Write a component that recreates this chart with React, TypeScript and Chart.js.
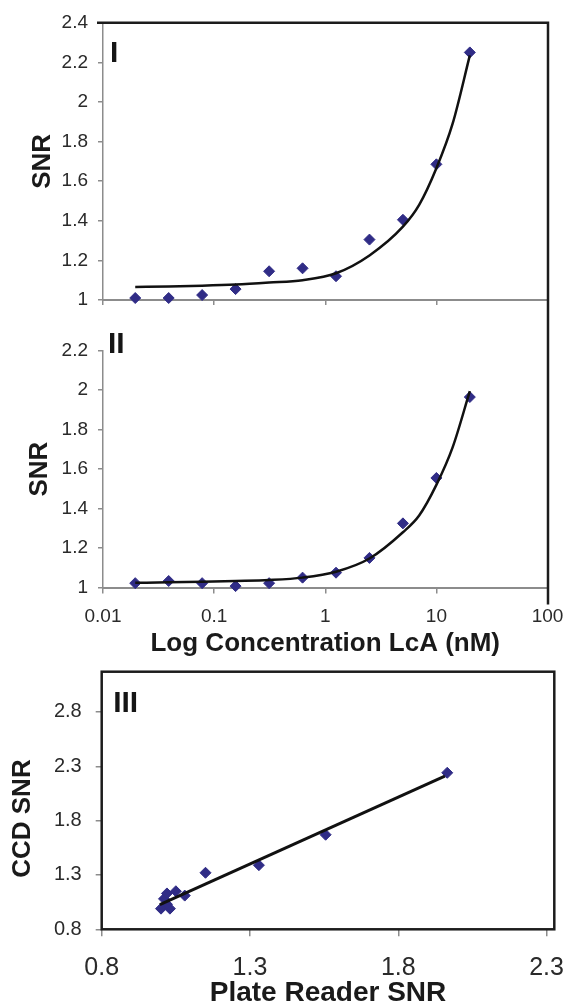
import React, { useEffect, useRef } from 'react';
import { Chart, registerables } from 'chart.js';

Chart.register(...registerables);

// ---- data ----
// two-fold dilution series of LcA (nM)
const concentrations = [0.0195, 0.039, 0.078, 0.156, 0.3125, 0.625, 1.25, 2.5, 5, 10, 20];
// Panel I (CCD) SNR
const snrPanelI = [1.01, 1.01, 1.025, 1.055, 1.145, 1.16, 1.12, 1.305, 1.405, 1.685, 2.25];
// Panel II (plate reader) SNR
const snrPanelII = [1.022, 1.033, 1.022, 1.007, 1.022, 1.05, 1.075, 1.15, 1.325, 1.555, 1.965];
// fitted curves
const fitConcentrations = [0.0195, 0.039, 0.078, 0.156, 0.3125, 0.625, 1.25, 2.5, 5, 7, 10, 14, 20];
const fitPanelI = [1.066, 1.068, 1.072, 1.078, 1.088, 1.1, 1.135, 1.225, 1.37, 1.48, 1.665, 1.89, 2.235];
const fitPanelII = [1.024, 1.026, 1.029, 1.033, 1.038, 1.05, 1.08, 1.147, 1.28, 1.365, 1.52, 1.71, 1.995];
// Panel III: plate reader SNR vs CCD SNR
const plateReaderSNR = [1.0, 1.03, 1.02, 1.01, 1.02, 1.05, 1.08, 1.15, 1.33, 1.555, 1.965];
const ccdSNR = [0.99, 0.99, 1.03, 1.08, 1.13, 1.15, 1.11, 1.32, 1.39, 1.67, 2.24];
const regressionX = [0.996, 1.957];
const regressionY = [1.027, 2.209];

// ---- ticks ----
const logTickValues = [0.01, 0.1, 1, 10, 100];
const logTickLabels = ['0.01', '0.1', '1', '10', '100'];
const yTickValuesI = [1, 1.2, 1.4, 1.6, 1.8, 2, 2.2, 2.4];
const yTickLabelsI = ['1', '1.2', '1.4', '1.6', '1.8', '2', '2.2', '2.4'];
const yTickValuesII = [1, 1.2, 1.4, 1.6, 1.8, 2, 2.2];
const yTickLabelsII = ['1', '1.2', '1.4', '1.6', '1.8', '2', '2.2'];
const xTickValuesIII = [0.8, 1.3, 1.8, 2.3];
const xTickLabelsIII = ['0.8', '1.3', '1.8', '2.3'];
const yTickValuesIII = [0.8, 1.3, 1.8, 2.3, 2.8];
const yTickLabelsIII = ['0.8', '1.3', '1.8', '2.3', '2.8'];

const FONT = '"Liberation Sans", Arial, Helvetica, sans-serif';
const TEXT = '#2a2a2a';
const AXIS_GRAY = '#8c8c8c';
const FRAME = '#1c1c1c';
const NAVY = '#302c86';
const CURVE = '#111111';

const pts = (xs: number[], ys: number[]) => xs.map((x, i) => ({ x, y: ys[i] }));

const setTicks = (values: number[]) => (s: any) => {
  s.ticks = values.map((v) => ({ value: v }));
};

const fixSize = (size: number, horizontal: boolean) => (s: any) => {
  if (horizontal) s.height = size;
  else s.width = size;
  s.paddingTop = 0;
  s.paddingBottom = 0;
  s.paddingLeft = 0;
  s.paddingRight = 0;
};

const markerDataset = (data: { x: number; y: number }[]) => ({
  data,
  pointStyle: 'rectRot',
  pointRadius: 5.5,
  backgroundColor: NAVY,
  borderColor: NAVY,
  borderWidth: 1,
  showLine: false,
  clip: false,
  order: 1,
});

const curveDataset = (data: { x: number; y: number }[], width: number) => ({
  data,
  showLine: true,
  pointRadius: 0,
  borderColor: CURVE,
  borderWidth: width,
  cubicInterpolationMode: 'monotone',
  fill: false,
  clip: false,
  order: 0,
});

const numeralPlugin = (text: string, dx: number, dy: number) => ({
  id: 'numeral' + text,
  afterDraw(chart: any) {
    const { ctx, chartArea: a } = chart;
    ctx.save();
    ctx.fillStyle = '#151515';
    ctx.font = `bold 30px ${FONT}`;
    ctx.textAlign = 'left';
    ctx.textBaseline = 'alphabetic';
    ctx.fillText(text, a.left + dx, a.top + dy);
    ctx.restore();
  },
});

const commonOptions = {
  animation: false,
  responsive: false,
  devicePixelRatio: 1,
  events: [],
  plugins: { legend: { display: false }, tooltip: { enabled: false } },
};

const tickFont = (size: number) => ({ family: FONT, size });
const titleFont = (size: number) => ({ family: FONT, size, weight: 'bold' });

function configI(): any {
  return {
    type: 'scatter',
    data: {
      datasets: [
        markerDataset(pts(concentrations, snrPanelI)),
        curveDataset(pts(fitConcentrations, fitPanelI), 2.5),
      ],
    },
    options: {
      ...commonOptions,
      layout: { padding: { top: 22.7, left: 0, right: 23.5, bottom: 0 } },
      scales: {
        x: {
          type: 'logarithmic',
          min: 0.01,
          max: 100,
          afterBuildTicks: setTicks(logTickValues),
          ticks: { display: false, autoSkip: false },
          grid: { drawOnChartArea: false, drawTicks: true, tickLength: 5, color: AXIS_GRAY, lineWidth: 1.5 },
          border: { color: AXIS_GRAY, width: 2 },
          afterFit: fixSize(12, true),
        },
        y: {
          min: 1,
          max: 2.4,
          afterBuildTicks: setTicks(yTickValuesI),
          ticks: {
            autoSkip: false,
            padding: 10,
            color: TEXT,
            font: tickFont(19),
            callback: (_v: any, i: number) => yTickLabelsI[i],
          },
          grid: { drawOnChartArea: false, drawTicks: true, tickLength: 5, color: AXIS_GRAY, lineWidth: 1.5 },
          border: { color: AXIS_GRAY, width: 1.5 },
          title: { display: true, text: 'SNR', color: '#1a1a1a', font: titleFont(26), padding: { top: 27, bottom: 0 } },
          afterFit: fixSize(103, false),
        },
      },
    },
    plugins: [
      {
        id: 'frameI',
        afterDraw(chart: any) {
          const { ctx, chartArea: a } = chart;
          ctx.save();
          ctx.strokeStyle = FRAME;
          ctx.lineWidth = 2.5;
          ctx.beginPath();
          ctx.moveTo(a.left - 6, a.top);
          ctx.lineTo(a.right + 0.5, a.top);
          ctx.moveTo(a.right + 0.5, a.top - 1.25);
          ctx.lineTo(a.right + 0.5, chart.height);
          ctx.stroke();
          ctx.restore();
        },
      },
      numeralPlugin('I', 7, 39),
    ],
  };
}

function configII(): any {
  return {
    type: 'scatter',
    data: {
      datasets: [
        markerDataset(pts(concentrations, snrPanelII)),
        curveDataset(pts(fitConcentrations, fitPanelII), 2.5),
      ],
    },
    options: {
      ...commonOptions,
      layout: { padding: { top: 38.7, left: 0, right: 23.5, bottom: 0 } },
      scales: {
        x: {
          type: 'logarithmic',
          min: 0.01,
          max: 100,
          afterBuildTicks: setTicks(logTickValues),
          ticks: {
            autoSkip: false,
            maxRotation: 0,
            padding: 12,
            color: TEXT,
            font: tickFont(19),
            callback: (_v: any, i: number) => logTickLabels[i],
          },
          grid: { drawOnChartArea: false, drawTicks: true, tickLength: 6, color: AXIS_GRAY, lineWidth: 1.5 },
          border: { color: AXIS_GRAY, width: 2 },
          title: {
            display: true,
            text: 'Log Concentration LcA (nM)',
            color: '#1a1a1a',
            font: titleFont(26),
            padding: { top: 0, bottom: 3 },
          },
          afterFit: fixSize(74.5, true),
        },
        y: {
          min: 1,
          max: 2.2,
          afterBuildTicks: setTicks(yTickValuesII),
          ticks: {
            autoSkip: false,
            padding: 10,
            color: TEXT,
            font: tickFont(19),
            callback: (_v: any, i: number) => yTickLabelsII[i],
          },
          grid: { drawOnChartArea: false, drawTicks: true, tickLength: 5, color: AXIS_GRAY, lineWidth: 1.5 },
          border: { color: AXIS_GRAY, width: 1.5 },
          title: { display: true, text: 'SNR', color: '#1a1a1a', font: titleFont(26), padding: { top: 24, bottom: 0 } },
          afterFit: fixSize(103, false),
        },
      },
    },
    plugins: [
      {
        id: 'frameII',
        afterDraw(chart: any) {
          const { ctx, chartArea: a } = chart;
          ctx.save();
          ctx.strokeStyle = FRAME;
          ctx.lineWidth = 2.5;
          ctx.beginPath();
          ctx.moveTo(a.right + 0.5, 0);
          ctx.lineTo(a.right + 0.5, a.bottom + 17);
          ctx.stroke();
          ctx.restore();
        },
      },
      numeralPlugin('II', 5, 2.5),
    ],
  };
}

function configIII(): any {
  return {
    type: 'scatter',
    data: {
      datasets: [
        markerDataset(pts(plateReaderSNR, ccdSNR)),
        curveDataset(pts(regressionX, regressionY), 3),
      ],
    },
    options: {
      ...commonOptions,
      layout: { padding: { top: 9.7, left: 0, right: 16.7, bottom: 0 } },
      scales: {
        x: {
          min: 0.8,
          max: 2.326,
          afterBuildTicks: setTicks(xTickValuesIII),
          ticks: {
            autoSkip: false,
            maxRotation: 0,
            padding: 17,
            color: TEXT,
            font: tickFont(25),
            callback: (_v: any, i: number) => xTickLabelsIII[i],
          },
          grid: { drawOnChartArea: false, drawTicks: true, tickLength: 7, color: AXIS_GRAY, lineWidth: 1.5 },
          border: { display: false },
          title: {
            display: true,
            text: 'Plate Reader SNR',
            color: '#1a1a1a',
            font: titleFont(28),
            padding: { top: 0, bottom: 0 },
          },
          afterFit: fixSize(80.7, true),
        },
        y: {
          min: 0.8,
          max: 3.17,
          afterBuildTicks: setTicks(yTickValuesIII),
          ticks: {
            autoSkip: false,
            padding: 14,
            color: TEXT,
            font: tickFont(20),
            callback: (_v: any, i: number) => yTickLabelsIII[i],
          },
          grid: { drawOnChartArea: false, drawTicks: true, tickLength: 6, color: AXIS_GRAY, lineWidth: 1.5 },
          border: { display: false },
          title: {
            display: true,
            text: 'CCD SNR     ',
            color: '#1a1a1a',
            font: titleFont(26),
            padding: { top: 7, bottom: 0 },
          },
          afterFit: fixSize(101.7, false),
        },
      },
    },
    plugins: [
      {
        id: 'frameIII',
        afterDraw(chart: any) {
          const { ctx, chartArea: a } = chart;
          ctx.save();
          ctx.strokeStyle = FRAME;
          ctx.lineWidth = 2.5;
          ctx.strokeRect(a.left, a.top, a.right - a.left, a.bottom - a.top);
          ctx.restore();
        },
      },
      numeralPlugin('III', 11.5, 40),
    ],
  };
}

export default function App() {
  const r1 = useRef<HTMLCanvasElement>(null);
  const r2 = useRef<HTMLCanvasElement>(null);
  const r3 = useRef<HTMLCanvasElement>(null);

  useEffect(() => {
    const charts = [
      new Chart(r1.current as HTMLCanvasElement, configI()),
      new Chart(r2.current as HTMLCanvasElement, configII()),
      new Chart(r3.current as HTMLCanvasElement, configIII()),
    ];
    return () => charts.forEach((c) => c.destroy());
  }, []);

  const canvasStyle = (top: number, height: number): React.CSSProperties => ({
    position: 'absolute',
    left: 0,
    top,
    width: 571,
    height,
    display: 'block',
  });

  return (
    <div style={{ position: 'absolute', left: 0, top: 0, width: 571, height: 1006, background: '#ffffff', overflow: 'hidden' }}>
      <canvas ref={r1} width={571} height={312} style={canvasStyle(0, 312)} />
      <canvas ref={r2} width={571} height={350} style={canvasStyle(312, 350)} />
      <canvas ref={r3} width={571} height={348} style={canvasStyle(662, 348)} />
    </div>
  );
}
